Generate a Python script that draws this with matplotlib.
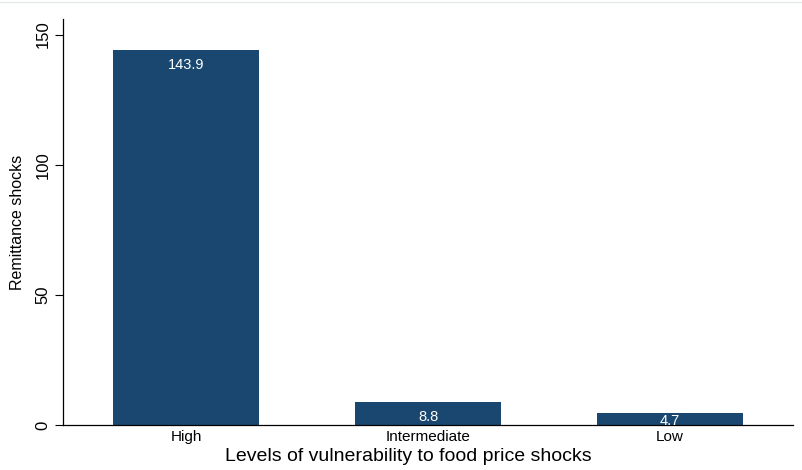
import matplotlib.pyplot as plt

plt.rcParams['font.family'] = ['Liberation Sans', 'DejaVu Sans']

# data
categories = ['High', 'Intermediate', 'Low']
values = [143.9, 8.8, 4.7]
yticks = [0, 50, 100, 150]

fig = plt.figure(figsize=(8.02, 4.70), dpi=100)
ax = fig.add_axes([0.0786, 0.0957, 0.9102, 0.8639])

x = list(range(len(categories)))
bars = ax.bar(x, values, width=0.6, color='#1a476f', zorder=2)

ymax = 156
px_per_unit = 0.8639 * 470 / ymax
for b, v in zip(bars, values):
    # stata pushes the label up for short bars
    off_px = max(0.5, min(8, v * px_per_unit - 11))
    ax.annotate(f'{v:.1f}', (b.get_x() + b.get_width() / 2, v),
                xytext=(0, -off_px * 0.72), textcoords='offset points',
                ha='center', va='top', color='white', fontsize=10.5, zorder=4)

ax.set_xlim(-0.508, 2.508)
ax.set_ylim(0, ymax)
ax.set_yticks(yticks)
ax.set_yticklabels([str(t) for t in yticks], rotation=90, va='center', fontsize=12)
ax.set_xticks(x)
ax.set_xticklabels(categories, fontsize=11)
ax.tick_params(axis='x', length=0, pad=3.5)
ax.tick_params(axis='y', length=6, width=0.8, pad=3)

ax.spines['top'].set_visible(False)
ax.spines['right'].set_visible(False)
ax.spines['left'].set_linewidth(0.9)
ax.spines['bottom'].set_linewidth(0.9)

ax.set_ylabel('Remittance shocks', fontsize=11.5)
ax.yaxis.set_label_coords(-0.052, 0.5)
ax.set_xlabel('Levels of vulnerability to food price shocks', fontsize=14)
ax.xaxis.label.set_va('baseline')
ax.xaxis.set_label_coords(0.4726, -(461 - 425) / (0.8639 * 470))

# faint line at the very top of the picture
fig.add_artist(plt.Line2D([0, 1], [0.995, 0.995], color='#e4e8ea', lw=1))

plt.savefig('out.png', dpi=100)
plt.close()
